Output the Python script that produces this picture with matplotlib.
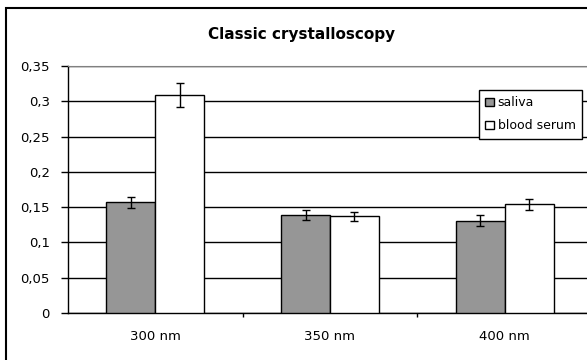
import matplotlib
matplotlib.use('Agg')
import matplotlib.pyplot as plt
from matplotlib.patches import Rectangle
from matplotlib.ticker import FuncFormatter
import numpy as np

categories = ['300 nm', '350 nm', '400 nm']
saliva = [0.157, 0.139, 0.131]
saliva_err = [0.008, 0.007, 0.0075]
serum = [0.309, 0.137, 0.154]
serum_err = [0.017, 0.0065, 0.0075]

plt.rcParams['font.family'] = ['DejaVu Sans']

fig = plt.figure(figsize=(5.87, 3.6), dpi=100)
fig.patch.set_facecolor('white')

# outer chart frame (runs off the right and bottom edge like the source)
fig.patches.append(Rectangle((6 / 587, -0.1), 1.2, 1.1 - 8 / 360,
                             transform=fig.transFigure, fill=False,
                             edgecolor='black', linewidth=1.5, clip_on=False))

ax = fig.add_axes([68 / 587, 1 - 313 / 360, 524 / 587, 247 / 360])

x = np.arange(len(categories))
w = 0.28
ekw = dict(ecolor='black', elinewidth=1, capsize=3, capthick=1)
ax.bar(x - w / 2, saliva, w, yerr=saliva_err, color='#969696',
       edgecolor='black', linewidth=1, label='saliva', zorder=3, error_kw=ekw)
ax.bar(x + w / 2, serum, w, yerr=serum_err, color='white',
       edgecolor='black', linewidth=1, label='blood serum', zorder=3, error_kw=ekw)

ax.set_xlim(-0.5, 2.5)
ax.set_ylim(0, 0.35)
ax.set_yticks(np.arange(0, 0.351, 0.05))
ax.yaxis.set_major_formatter(FuncFormatter(
    lambda v, p: '0' if abs(v) < 1e-9 else f'{v:.2f}'.rstrip('0').replace('.', ',')))
ax.set_xticks(x)
ax.set_xticklabels(categories)
ax.set_xticks([0.5, 1.5], minor=True)
ax.tick_params(axis='x', which='major', length=0, pad=12, labelsize=9.5)
ax.tick_params(axis='x', which='minor', length=3, width=1, direction='out')
ax.tick_params(axis='y', length=5, width=1, pad=8, labelsize=9.5)

ax.yaxis.grid(True, color='black', linewidth=1)
ax.set_axisbelow(True)
for s in ['left', 'bottom']:
    ax.spines[s].set_color('black')
    ax.spines[s].set_linewidth(1)
ax.spines['top'].set_color('#808080')
ax.spines['right'].set_color('#808080')

fig.text(302 / 587, 1 - 35 / 360, 'Classic crystalloscopy', ha='center',
         va='center', fontsize=11, fontweight='bold')

leg = ax.legend(loc='upper left', bbox_to_anchor=(479 / 587, 1 - 90 / 360),
                bbox_transform=fig.transFigure, fontsize=9,
                handlelength=0.7, handleheight=0.7, handletextpad=0.3,
                borderpad=0.5, labelspacing=0.8, borderaxespad=0,
                fancybox=False, framealpha=1, edgecolor='black')
leg.get_frame().set_linewidth(1)

fig.savefig('out.png', dpi=100)
